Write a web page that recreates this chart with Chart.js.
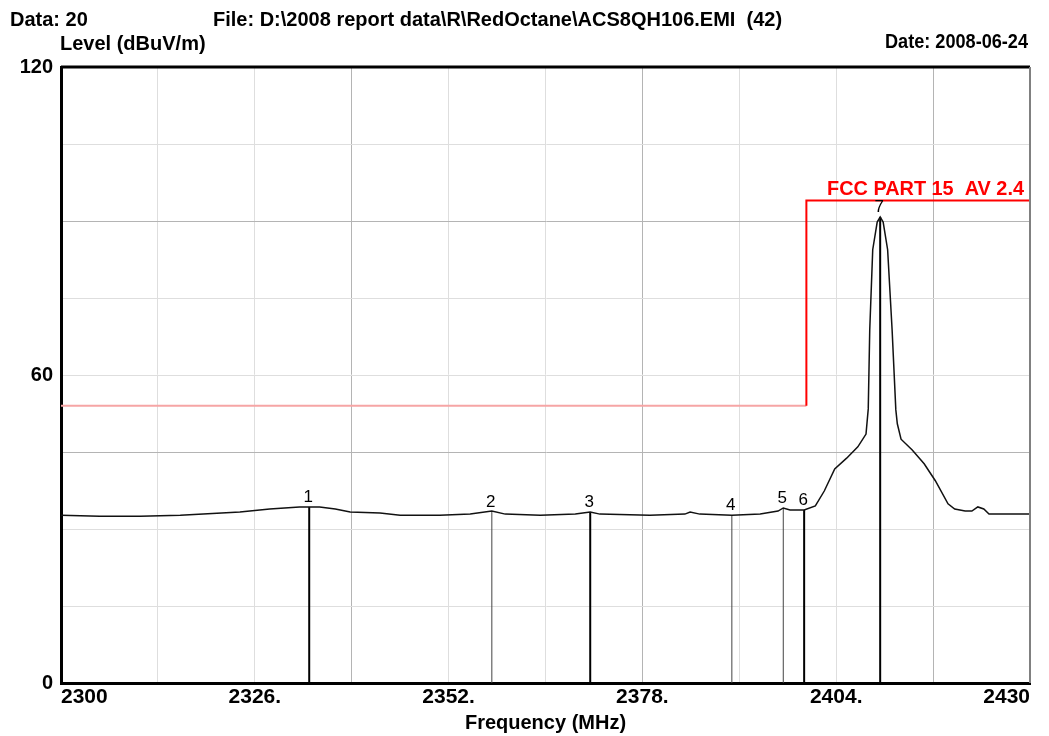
<!DOCTYPE html>
<html lang="en">
<head>
<meta charset="UTF-8">
<title>ACS8QH106 - Level vs Frequency</title>
<script src="https://cdn.jsdelivr.net/npm/chart.js"></script>
<style>
  body { margin: 0; background: #fff; }
  canvas { display: block; }
</style>
</head>
<body>
<canvas id="emiChart" width="1049" height="736"></canvas>
<script>
const traceFreq = [2300, 2305.2, 2310.6, 2316, 2324, 2328, 2332, 2334.7, 2336.8, 2338.8,
  2342.8, 2345.5, 2350.8, 2354.9, 2357.8, 2359.6, 2364.3, 2369, 2371, 2372.3,
  2379, 2383.7, 2384.4, 2385.7, 2390, 2393.8, 2396.2, 2396.9, 2397.8, 2399.7,
  2401.2, 2402.4, 2403.8, 2405.4, 2406.9, 2408, 2408.3, 2408.5, 2408.9, 2409.5,
  2409.9, 2410.3, 2410.9, 2411.5, 2412, 2412.2, 2412.7, 2414.2, 2415.8, 2417.3,
  2419, 2419.9, 2421.3, 2422.2, 2423, 2423.8, 2424.5, 2430];
const traceLevel = [32.7, 32.5, 32.5, 32.7, 33.3, 33.9, 34.3, 34.3, 33.9, 33.3,
  33.1, 32.7, 32.7, 32.9, 33.5, 32.9, 32.7, 32.9, 33.3, 32.9,
  32.7, 32.9, 33.3, 32.9, 32.7, 32.9, 33.5, 34.1, 33.7, 33.7,
  34.5, 37.4, 41.7, 43.8, 46.0, 48.5, 53.4, 68.8, 84.4, 89.8,
  90.8, 89.8, 84.4, 68.8, 53.2, 50.5, 47.5, 45.4, 42.7, 39.4,
  34.9, 33.9, 33.5, 33.5, 34.3, 33.9, 32.9, 32.9];

// FCC PART 15 AV 2.4 limit
const limitFreq = [2300, 2400, 2400, 2430];
const limitLevel = [54, 54, 94, 94];

// markers
const markerNo = ['1', '2', '3', '4', '5', '6', '7'];
const markerFreq = [2333.3, 2357.8, 2371.0, 2390.0, 2396.9, 2399.7, 2409.9];
const markerLevel = [34.3, 33.3, 33.3, 32.7, 34.1, 33.7, 90.8];

// tick labels
const xTickLabels = { 2300: '2300', 2326: '2326.', 2352: '2352.', 2378: '2378.', 2404: '2404.', 2430: '2430' };
const yTickLabels = { 0: '0', 60: '60', 120: '120' };

const markerWidth = [2, 1, 2, 1, 1, 2, 2];
const FONT = '"Liberation Sans", Arial, sans-serif';

const datasets = [
  {
    label: 'Limit',
    data: limitFreq.map((f, i) => ({ x: f, y: limitLevel[i] })),
    borderWidth: 2,
    pointRadius: 0,
    segment: { borderColor: c => c.p0DataIndex === 0 ? '#f6a5a5' : '#ff0000' }
  },
  {
    label: 'Trace',
    data: traceFreq.map((f, i) => ({ x: f, y: traceLevel[i] })),
    borderColor: '#111',
    borderWidth: 1.5,
    pointRadius: 0
  }
].concat(markerFreq.map((f, i) => ({
  label: 'M' + markerNo[i],
  data: [{ x: f, y: 0 }, { x: f, y: markerLevel[i] }],
  borderColor: markerWidth[i] > 1 ? '#000' : '#444',
  borderWidth: markerWidth[i],
  pointRadius: 0
})));

const annotate = {
  id: 'annotate',
  afterDraw(chart) {
    const { ctx, chartArea: a, scales: { x, y } } = chart;
    ctx.save();
    // top and right frame
    ctx.strokeStyle = '#000';
    ctx.lineWidth = 3;
    ctx.beginPath(); ctx.moveTo(a.left, a.top); ctx.lineTo(a.right, a.top); ctx.stroke();
    ctx.strokeStyle = '#808080';
    ctx.lineWidth = 2;
    ctx.beginPath(); ctx.moveTo(a.right, a.top); ctx.lineTo(a.right, a.bottom); ctx.stroke();

    // header
    ctx.fillStyle = '#000';
    ctx.font = 'bold 20px ' + FONT;
    ctx.textBaseline = 'alphabetic';
    ctx.textAlign = 'left';
    ctx.fillText('Data: 20', 10, 26);
    ctx.fillText('File: D:\\2008 report data\\R\\RedOctane\\ACS8QH106.EMI  (42)', 213, 26);
    ctx.fillText('Level (dBuV/m)', 60, 50);
    ctx.textAlign = 'right';
    ctx.fillText('Date: 2008-06-24', 1028, 48, 143);

    // limit label
    ctx.fillStyle = '#ff0000';
    ctx.fillText('FCC PART 15  AV 2.4', x.getPixelForValue(2430) - 6, y.getPixelForValue(94) - 5, 197);

    // marker numbers
    ctx.fillStyle = '#000';
    ctx.font = '17px ' + FONT;
    ctx.textAlign = 'center';
    markerNo.forEach((n, i) => {
      ctx.fillText(n, x.getPixelForValue(markerFreq[i]) - 1, y.getPixelForValue(markerLevel[i]) - 5);
    });
    ctx.restore();
  }
};

new Chart(document.getElementById('emiChart'), {
  type: 'line',
  data: { datasets: datasets },
  options: {
    responsive: false,
    animation: false,
    layout: { padding: { top: 67, right: 19, left: 0, bottom: 0 } },
    plugins: { legend: { display: false }, tooltip: { enabled: false } },
    scales: {
      x: {
        type: 'linear',
        min: 2300, max: 2430,
        afterFit: s => { s.height = 53; },
        border: { color: '#000', width: 3 },
        grid: {
          drawTicks: false,
          color: c => ((c.tick.value - 2300) % 39 === 0) ? '#b4b4b4' : '#dedede'
        },
        ticks: {
          stepSize: 13,
          autoSkip: false,
          maxRotation: 0,
          align: 'inner',
          padding: 2,
          color: '#000',
          font: { family: FONT, size: 21, weight: 'bold' },
          callback: v => xTickLabels[v] ?? ''
        },
        title: {
          display: true,
          text: 'Frequency (MHz)',
          color: '#000',
          font: { family: FONT, size: 20, weight: 'bold' },
          padding: { top: 0, bottom: 1 }
        }
      },
      y: {
        min: 0, max: 120,
        afterFit: s => { s.width = 61; },
        border: { color: '#000', width: 3 },
        grid: {
          drawTicks: false,
          color: c => (c.tick.value % 45 === 0) ? '#b4b4b4' : '#dedede'
        },
        ticks: {
          stepSize: 15,
          autoSkip: false,
          padding: 8,
          color: '#000',
          font: { family: FONT, size: 20, weight: 'bold' },
          callback: v => yTickLabels[v] ?? ''
        }
      }
    }
  },
  plugins: [annotate]
});
</script>
</body>
</html>
